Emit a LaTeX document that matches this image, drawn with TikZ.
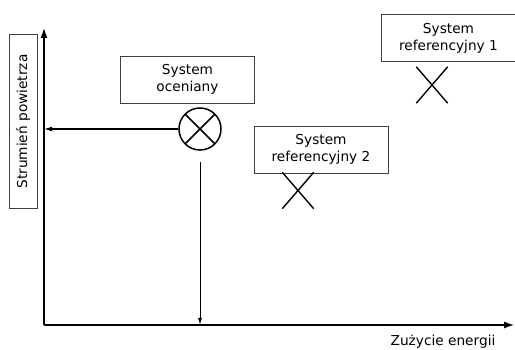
\documentclass[tikz,border=0pt]{standalone}
\usepackage{fontspec}
\setmainfont{DejaVu Sans}
\usetikzlibrary{arrows.meta, shapes.misc}
\tikzset{
  txt/.style={font=\fontsize{13.7}{17}\selectfont},
  sysbox/.style={
    rectangle, draw=black!75, line width=0.8pt, fill=white,
    minimum width=134pt, minimum height=47pt,
    align=center, txt, inner sep=2pt
  },
  axisbox/.style={sysbox, minimum width=174pt, minimum height=28pt},
  target/.style={
    circle, draw, line width=1.5pt, minimum size=42pt, inner sep=0pt,
    path picture={
      \draw[line width=1.5pt]
        (path picture bounding box.north west) -- (path picture bounding box.south east)
        (path picture bounding box.north east) -- (path picture bounding box.south west);
    }
  },
  refmark/.style={cross out, draw, line width=1.4pt, minimum width=30pt, minimum height=35pt, inner sep=0pt},
  axis/.style={-{Latex[length=11pt, width=7pt]}, line width=2.6pt},
  pointer/.style={-{Latex[length=8pt, width=5pt]}, line width=1.3pt},
  thinpointer/.style={-{Latex[length=7pt, width=4pt]}, line width=0.9pt}
}
\begin{document}
\begin{tikzpicture}[x=1pt, y=-1pt]
  \useasboundingbox (0,0) rectangle (515,350);

  % axes
  \coordinate (orig) at (44,325);
  \coordinate (yend) at (44,27);
  \coordinate (xend) at (515,325);
  \draw[axis] (orig) -- (yend);
  \draw[axis] (orig) -- (xend);

  % axis labels
  \node[axisbox, rotate=90] (ylab) at (23,121.5) {Strumień powietrza};
  \node[txt] (xlab) at (443,342) {Zużycie energii};

  % systems
  \node[sysbox] (oce) at (187.5,79.5) {System\\oceniany};
  \node[target] (ocemark) at (200,129) {};
  \node[sysbox] (ref2) at (321,149.5) {System\\referencyjny 2};
  \node[refmark] (ref2mark) at (298,190.5) {};
  \node[sysbox] (ref1) at (448.5,38) {System\\referencyjny 1};
  \node[refmark] (ref1mark) at (432,85) {};

  % projections onto the axes
  \draw[pointer] (ocemark.west) -- (ocemark.west -| orig);
  \draw[thinpointer] ([yshift=-11pt]ocemark.south) -- (ocemark.south |- orig);

\end{tikzpicture}
\end{document}
